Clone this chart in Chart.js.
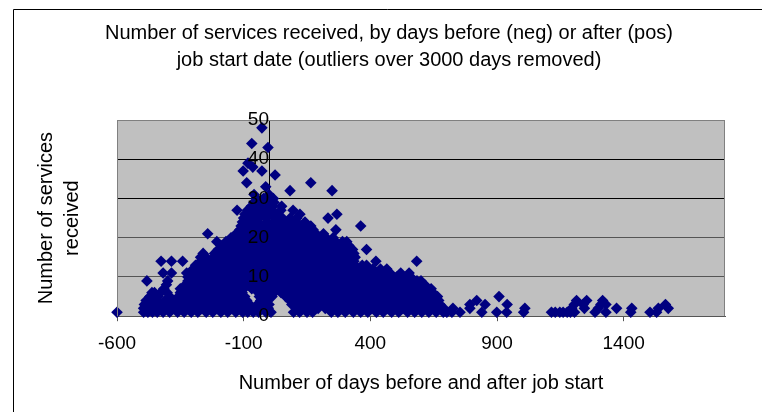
<!DOCTYPE html>
<html><head><meta charset="utf-8">
<style>html,body{margin:0;padding:0;background:#fff}canvas{display:block}</style>
<script src="https://cdn.jsdelivr.net/npm/chart.js@4"></script></head>
<body><canvas id="c" width="762" height="412"></canvas>
<script>
const titleLines = ["Number of services received, by days before (neg) or after (pos)", "job start date (outliers over 3000 days removed)"];
const xTitle = "Number of days before and after job start";
const yTitleLines = ["Number of services", "received"];
const xTicks = [-600, -100, 400, 900, 1400];
const serviceLevels = [1,2,3,4,5,6,7,8,9,10,11,12,13,14,15,16,17,18,19,20,21,22,23,24,25,26,27,28,29,30,31,32,33,34,36,37,38,39,43,44,48];
const days1 = [-600,-495,-478,-460,-441,-418,-392,-361,-335,-307,-281,-248,-222,-190,-163,-131,-104,-84,-62,-41,-12,8,97,121,150,172,246,272,301,333,362,390,424,451,484,512,547,575,603,631,660,688,702,722,754,840,899,938,1005,1115,1130,1148,1161,1177,1190,1206,1287,1330,1428,1504,1530];
const days2 = [-495,-475,-455,-433,-407,-378,-349,-322,-296,-265,-238,-207,-176,-149,-118,-92,-70,-52,-25,-3,108,135,163,194,222,258,287,316,349,377,405,438,467,498,529,558,586,617,644,672,690,726,793,1010,1195,1245,1300,1372,1432,1537,1576];
const days3 = [-492,-470,-448,-420,-396,-365,-338,-309,-276,-251,-219,-193,-160,-127,-101,-76,-46,-19,0,90,118,146,177,206,232,268,296,328,359,388,417,446,479,507,536,569,598,626,655,675,793,853,940,1205,1240,1310,1330,1565];
const days4 = [-485,-466,-443,-409,-374,-346,-318,-285,-259,-232,-201,-170,-141,-112,-88,-33,-8,82,105,131,158,186,214,243,277,305,338,366,397,429,458,491,520,552,581,613,640,670,820,1214,1254,1317];
const days5 = [-470,-455,-437,-392,-357,-329,-297,-268,-240,-211,-184,-153,-122,-96,-38,-14,12,66,94,125,152,181,209,237,262,291,323,352,381,413,441,473,502,533,565,592,621,650,665,908];
const days6 = [-462,-452,-428,-402,-350,-319,-288,-256,-227,-198,-167,-136,-106,-42,-9,20,48,79,112,139,168,199,228,254,283,311,344,372,401,432,463,488,518,549,577,606,633,647];
const days7 = [-415,-350,-326,-301,-272,-243,-216,-187,-158,-128,-99,-68,-30,-2,31,62,88,117,147,176,203,236,265,298,327,355,386,418,447,476,509,537,562,594,622,640];
const days8 = [-405,-330,-303,-278,-249,-220,-192,-163,-134,-107,-78,-48,-17,14,43,71,103,128,159,188,217,249,274,308,334,363,394,423,452,485,512,543,571,598,615];
const days9 = [-482,-400,-320,-292,-262,-234,-205,-178,-146,-117,-86,-58,-27,5,34,57,92,119,144,173,205,231,261,289,318,349,378,409,437,466,497,526,553,584,600];
const days10 = [-320,-296,-268,-239,-209,-181,-150,-123,-94,-63,-36,-6,25,52,83,110,137,166,195,224,252,282,310,341,368,399,428,459,489,504,531,560];
const days11 = [-418,-385,-325,-291,-258,-226,-199,-168,-139,-111,-82,-53,-21,9,39,68,98,126,155,182,213,241,270,301,329,358,390,419,443,478,520,553];
const days12 = [-300,-274,-245,-214,-186,-157,-129,-100,-71,-40,-11,18,47,76,104,133,162,191,219,248,278,306,337,365,392,410,440,465];
const days13 = [-290,-263,-231,-204,-174,-143,-115,-87,-56,-26,3,33,61,90,121,149,178,207,234,265,293,322,340,368,385];
const days14 = [-426,-385,-341,-270,-242,-212,-183,-154,-125,-95,-66,-35,-4,22,54,85,113,141,170,199,227,256,285,314,335,422,583];
const days15 = [-270,-248,-218,-190,-160,-133,-103,-74,-45,-15,15,44,73,102,130,159,188,216,246,275,302,327,340];
const days16 = [-260,-215,-195,-166,-137,-109,-79,-50,-20,10,37,66,96,124,152,181,210,238,268,296,320,335];
const days17 = [-200,-172,-145,-116,-89,-60,-29,1,29,58,87,116,144,174,202,231,258,286,312,330,385];
const days18 = [-190,-160,-131,-102,-72,-43,-12,17,46,75,107,135,161,192,222,250,277,303,315];
const days19 = [-206,-170,-142,-113,-83,-54,-24,6,35,64,93,122,151,180,208,236,264,290,307];
const days20 = [-150,-124,-94,-65,-37,-7,26,55,81,111,140,168,197,226,253];
const days21 = [-242,-130,-104,-76,-47,-16,13,42,72,100,129,157,186,215];
const days22 = [-115,-86,-57,-28,4,32,60,91,118,147,174,264];
const days23 = [-110,-79,-49,-19,11,41,69,98,127,165,362];
const days24 = [-105,-75,-44,-10,19,50,78,109,142];
const days25 = [-100,-68,-39,-9,23,53,84,110,233];
const days26 = [-95,-61,-31,-1,28,122,268];
const days27 = [-126,-85,-55,-24,7,47,95];
const days28 = [-70,-41,-13,16,50];
const days29 = [-60,-33,-5,20];
const days30 = [-50,-22,17];
const days31 = [-59,0];
const days32 = [83,249];
const days33 = [-13];
const days34 = [-88,165];
const days36 = [24];
const days37 = [-102,-28];
const days38 = [-64];
const days39 = [-83];
const days43 = [-4];
const days44 = [-68];
const days48 = [-28];
const daysByLevel = [days1,days2,days3,days4,days5,days6,days7,days8,days9,days10,days11,days12,days13,days14,days15,days16,days17,days18,days19,days20,days21,days22,days23,days24,days25,days26,days27,days28,days29,days30,days31,days32,days33,days34,days36,days37,days38,days39,days43,days44,days48];
const points = [];
serviceLevels.forEach((lvl, i) => daysByLevel[i].forEach(d => points.push({x: d, y: lvl})));

const frame = {
  id: 'frame',
  beforeDraw(chart) {
    const {ctx, chartArea: a} = chart;
    ctx.save();
    ctx.fillStyle = '#c0c0c0';
    ctx.fillRect(a.left, a.top, a.width, a.height);
    ctx.strokeStyle = '#000'; ctx.lineWidth = 1;
    ctx.beginPath();
    ctx.moveTo(13.5, 412); ctx.lineTo(13.5, 9.5); ctx.lineTo(762, 9.5);
    ctx.stroke();
    ctx.restore();
  },
  afterDatasetsDraw(chart) {
    const {ctx, chartArea: a} = chart;
    ctx.save();
    ctx.strokeStyle = '#808080'; ctx.lineWidth = 1;
    ctx.beginPath();
    ctx.moveTo(a.left + .5, a.bottom); ctx.lineTo(a.left + .5, a.top + .5); ctx.lineTo(a.right - .5, a.top + .5); ctx.lineTo(a.right - .5, a.bottom);
    ctx.stroke();
    ctx.restore();
  }
};

Chart.defaults.font.family = '"Liberation Sans", Arial, sans-serif';
Chart.defaults.color = '#000';
new Chart(document.getElementById('c'), {
  type: 'scatter',
  data: {datasets: [{data: points, pointStyle: 'rectRot', radius: 5.8, hoverRadius: 5.8, backgroundColor: '#000080', borderColor: '#000080', borderWidth: 0, clip: false}]},
  plugins: [frame],
  options: {
    responsive: false, animation: false,
    layout: {padding: {left: 20, right: 4, top: 20, bottom: 17}},
    plugins: {
      legend: {display: false}, tooltip: {enabled: false},
      title: {display: true, text: titleLines, font: {size: 20, weight: 'normal', lineHeight: 1.35}, padding: {top: 0, bottom: 46}, color: '#000'}
    },
    scales: {
      x: {
        type: 'linear', min: -600, max: 1800, position: 'bottom',
        afterBuildTicks: s => { s.ticks = xTicks.map(v => ({value: v})); },
        grid: {drawOnChartArea: false, tickLength: 5, color: '#555'},
        border: {color: '#555'},
        ticks: {font: {size: 19}, padding: 11, maxRotation: 0, autoSkip: false, callback: v => String(v)},
        title: {display: true, text: xTitle, font: {size: 20}, padding: {top: 5, bottom: 0}}
      },
      y: {
        type: 'linear', min: 0, max: 50, position: {x: 0},
        grid: {color: c => (c.tick && (c.tick.value === 10 || c.tick.value === 20)) ? '#555' : (c.tick && (c.tick.value === 50 || c.tick.value === 0)) ? '#808080' : '#000', tickLength: 4},
        border: {color: '#000'},
        ticks: {stepSize: 10, font: {size: 19}, padding: 12, z: 2}
      },
      yLabel: {
        type: 'linear', position: 'left', min: 0, max: 50,
        grid: {display: false}, border: {display: false},
        ticks: {display: false},
        afterFit: s => { s.width = 97; },
        title: {display: true, text: yTitleLines, font: {size: 20, lineHeight: 1.3}, padding: {top: 13, bottom: 0}}
      },
      rightPad: {
        type: 'linear', position: 'right', min: 0, max: 50,
        grid: {display: false}, border: {display: false},
        ticks: {display: false},
        afterFit: s => { s.width = 33; }
      }
    }
  }
});
</script></body></html>
